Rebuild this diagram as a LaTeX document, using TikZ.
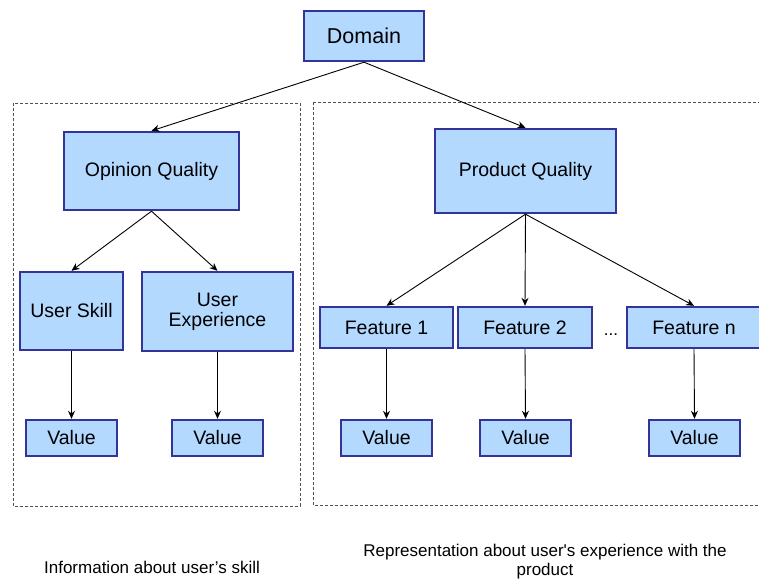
\documentclass[tikz,border=0pt]{standalone}
\usepackage{fontspec}
\setmainfont{Liberation Sans}
\usetikzlibrary{arrows.meta}
\definecolor{boxfill}{RGB}{179,217,255}
\definecolor{boxline}{RGB}{51,51,153}
\definecolor{dashline}{RGB}{80,80,80}
\tikzset{
  qbox/.style={draw=boxline, fill=boxfill, line width=2.4pt, inner sep=0pt, align=center,
    font=\fontsize{19.5}{20}\selectfont},
  conn/.style={draw=black, line width=0.9pt, -{Stealth[length=8pt,width=7pt]}},
  groupframe/.style={draw=dashline, line width=0.9pt, dash pattern=on 3pt off 2pt},
  caption/.style={font=\fontsize{17}{19}\selectfont, align=center, inner sep=0pt},
}
\begin{document}
\begin{tikzpicture}[x=1pt,y=-1pt]
\useasboundingbox (0,0) rectangle (759,585);
% group frames
\draw[groupframe] (13,103) rectangle (300,506);
\draw[groupframe] (313,102) -- (780,102);
\draw[groupframe] (313,102) -- (313,505) -- (780,505);
% nodes
\node[qbox, minimum width=120pt, minimum height=50pt, font=\fontsize{21.5}{22}\selectfont] (dom) at (364,36) {Domain};
\node[qbox, minimum width=175pt, minimum height=78pt] (oq) at (151.5,171) {Opinion Quality};
\node[qbox, minimum width=181pt, minimum height=84pt] (pq) at (525.5,171) {Product Quality};
\node[qbox, minimum width=103pt, minimum height=78pt] (us) at (71.5,311) {User Skill};
\node[qbox, minimum width=151pt, minimum height=79pt] (ue) at (217.5,311.5) {User\\Experience};
\node[qbox, minimum width=133pt, minimum height=41pt] (f1) at (386.5,327.5) {Feature 1};
\node[qbox, minimum width=134pt, minimum height=41pt] (f2) at (525,327.5) {Feature 2};
\node[qbox, minimum width=134pt, minimum height=41pt] (fn) at (694,327.5) {Feature n};
\node[font=\fontsize{17}{17}\selectfont, inner sep=0pt] (dots) at (611,335) {...};
\node[qbox, minimum width=91pt, minimum height=36pt] (v1) at (71.5,438) {Value};
\node[qbox, minimum width=91pt, minimum height=36pt] (v2) at (217.5,438) {Value};
\node[qbox, minimum width=91pt, minimum height=36pt] (v3) at (386.5,438) {Value};
\node[qbox, minimum width=91pt, minimum height=36pt] (v4) at (525.5,438) {Value};
\node[qbox, minimum width=91pt, minimum height=36pt] (v5) at (694.5,438) {Value};
% connectors
\draw[conn] (dom.south) -- (oq.north);
\draw[conn] (dom.south) -- (pq.north);
\draw[conn] (oq.south) -- (us.north);
\draw[conn] (oq.south) -- (ue.north);
\draw[conn] (pq.south) -- (f1.north);
\draw[conn] (pq.south) -- (f2.north);
\draw[conn] (pq.south) -- (fn.north);
\draw[conn] (us.south) -- (v1.north);
\draw[conn] (ue.south) -- (v2.north);
\draw[conn] (f1.south) -- (v3.north);
\draw[conn] (f2.south) -- (v4.north);
\draw[conn] (fn.south) -- (v5.north);
% captions
\node[caption] (capl) at (152,567) {Information about user’s skill};
\node[caption] (capr) at (545,562) {Representation about user\textquotesingle s experience with the\\product};
\end{tikzpicture}
\end{document}
